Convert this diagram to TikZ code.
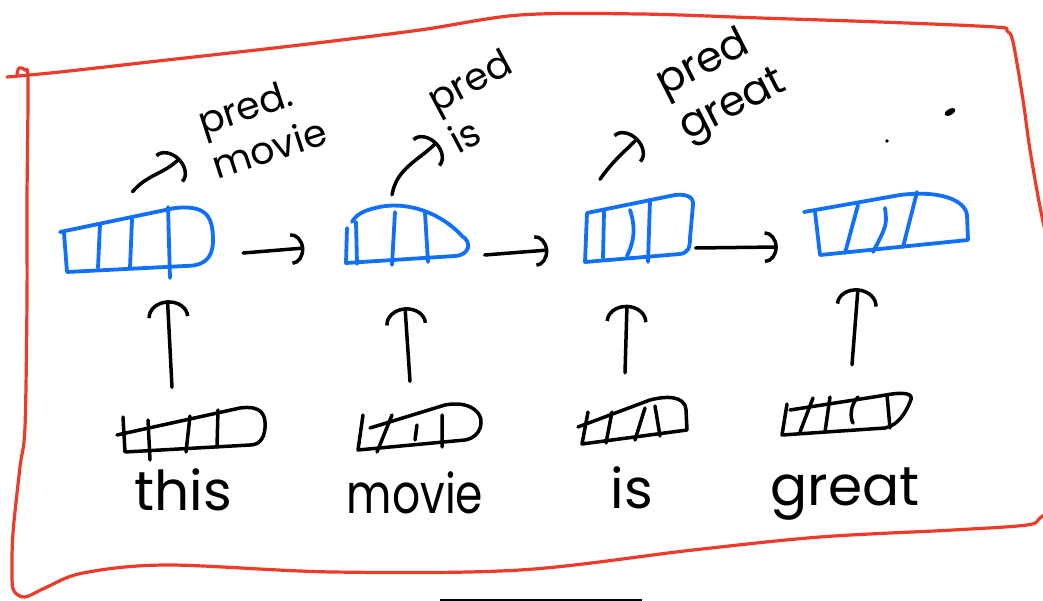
\documentclass[tikz,border=0pt]{standalone}
\usepackage{fontspec}
\setmainfont{Poppins}
\usetikzlibrary{arrows.meta}
\definecolor{inkblue}{RGB}{16,112,250}
\definecolor{inkred}{RGB}{238,58,40}
\tikzset{
  x=1pt, y=-1pt,
  frame/.style={draw=inkred, line width=3.2pt, line cap=round, line join=round},
  hid/.style={draw=inkblue, line width=3.8pt, line join=round, line cap=round},
  emb/.style={draw=black, line width=3.5pt, line join=round, line cap=round},
  box/.style={inner sep=0pt, draw=none, rectangle},
  flow/.style={draw=black, line width=3.5pt, line cap=round, -{Arc Barb[length=13pt,width=32pt]}},
  upflow/.style={draw=black, line width=3.5pt, line cap=round, -{Arc Barb[length=17pt,width=42pt]}},
  outflow/.style={draw=black, line width=3.5pt, line cap=round, -{Arc Barb[length=15pt,width=40pt]}},
  word/.style={font=\fontsize{55}{60}\selectfont, inner sep=0pt},
  lab/.style={font=\fontsize{38}{47}\selectfont, align=left, inner sep=0pt},
}
\begin{document}
\begin{tikzpicture}
\useasboundingbox (0,0) rectangle (1043,601);
\clip (0,0) rectangle (1043,601);

% red frame around the whole model: top and right side, then bottom and left side
\draw[frame] plot[smooth, tension=0.55] coordinates {
  (7,77) (60,72) (167,60) (300,45) (420,30) (520,15) (640,14) (760,18)
  (880,22) (995,27) (1007,31) (1013,42) (1023,100) (1030,150) (1041,212)
  (1052,260)};
\draw[frame] plot[smooth, tension=0.55] coordinates {
  (1056,505) (1040,518) (1027,525) (953,530)
  (820,537) (693,550) (520,570) (333,572) (167,565) (83,573) (45,588)
  (25,597) (14,591) (12,575) (13,533) (20,467) (25,427) (27,300)
  (27,200) (28,82) (25,70) (19,68) (17,75)};
\draw[line width=4pt] (440,601) -- (642,601);

% hidden states
\node[box, minimum width=157pt, minimum height=66pt] (h1) at (136.5,240) {};
\draw[hid] (60,232) -- (175,208) .. controls (205,205) and (213,215) .. (213,240)
  .. controls (213,262) and (200,266) .. (185,266) -- (67,272) -- (64,233);
\draw[hid] (100,224) -- (98,268) (132,219) -- (130,268) (168,207) -- (170,278);

\node[box, minimum width=125pt, minimum height=60pt] (h2) at (407,235) {};
\draw[hid] (347,228) -- (346,263) -- (455,256) .. controls (470,255) and (472,242) .. (462,236)
  .. controls (440,212) and (405,200) .. (375,208) .. controls (362,211) and (355,216) .. (352,222);
\draw[hid] (356,222) -- (357,264) (395,212) -- (392,265) (425,213) -- (428,262);

\node[box, minimum width=109pt, minimum height=69pt] (h3) at (640,228) {};
\draw[hid] (587,213) -- (585,262) -- (680,254) .. controls (688,253) and (690,248) .. (690,238)
  -- (693,205) .. controls (694,196) and (685,194) .. (675,195) -- cycle;
\draw[hid] (604,211) -- (603,258) (630,210) .. controls (636,228) and (634,242) .. (627,256)
  (650,200) -- (648,262);

\node[box, minimum width=164pt, minimum height=64pt] (h4) at (886,224) {};
\draw[hid] (804,212) -- (900,195) .. controls (940,190) and (965,200) .. (967,215)
  -- (968,240) -- (820,255) -- (815,212);
\draw[hid] (858,205) -- (845,253) (885,208) .. controls (887,225) .. (873,252)
  (917,192) -- (903,247);

% input embeddings
\node[box, minimum width=149pt, minimum height=47pt] (x1) at (191,428) {};
\draw[emb] (117,435) -- (240,408) .. controls (262,405) and (266,415) .. (265,428)
  .. controls (264,440) and (258,445) .. (250,445) -- (125,452) -- (123,417);
\draw[emb] (148,420) -- (150,460) (190,416) -- (186,452) (218,410) -- (217,447);

\node[box, minimum width=126pt, minimum height=49pt] (x2) at (421,427) {};
\draw[emb] (363,415) -- (358,450) -- (465,440) .. controls (482,437) and (484,420) .. (478,413)
  .. controls (470,403) and (455,403) .. (445,405) -- (370,428);
\draw[emb] (392,415) -- (377,452) (417,425) -- (415,440) (442,415) -- (442,447);

\node[box, minimum width=110pt, minimum height=50pt] (x3) at (633,420) {};
\draw[emb] (578,427) -- (650,400) .. controls (665,396) and (685,395) .. (686,410)
  -- (687,430) -- (582,444) -- (588,412);
\draw[emb] (612,412) -- (606,443) (645,408) -- (635,440) (655,406) -- (660,436);

\node[box, minimum width=130pt, minimum height=44pt] (x4) at (847,414) {};
\draw[emb] (790,410) -- (880,396) .. controls (905,391) and (915,393) .. (910,402)
  .. controls (905,414) and (898,425) .. (885,428) -- (782,435) -- (787,404);
\draw[emb] (813,398) -- (800,432) (830,397) -- (825,432)
  (858,397) .. controls (850,405) and (850,418) .. (853,423) (887,395) -- (890,428);

% input words
\node[word, anchor=base] (w1) at (183,510) {this};
\node[word, anchor=base, xscale=0.8] (w2) at (415,513) {movie};
\node[word, anchor=base] (w3) at (632,508) {is};
\node[word, anchor=base] (w4) at (845,505) {great};

% predictions
\node[lab, rotate=18] (p1) at (262,126) {pred.\\movie};
\node[lab, rotate=28] (p2) at (480,101) {pred\\is};
\node[lab, rotate=27, font=\fontsize{42}{50}\selectfont] (p3) at (722,84) {pred\\great};

% inputs feed the hidden states
\draw[upflow] ([shift={(-19,-17)}]x1.north) -- ([shift={(31,27)}]h1.south);
\draw[upflow] ([shift={(-11,-21)}]x2.north) -- ([shift={(-2,42)}]h2.south);
\draw[upflow] ([shift={(-8,-22)}]x3.north) -- ([shift={(-13,42)}]h3.south);
\draw[upflow] ([shift={(5,-27)}]x4.north) -- ([shift={(-28,32)}]h4.south);

% recurrence
\draw[flow] ([shift={(28,13)}]h1.east) -- ([shift={(-40,13)}]h2.west);
\draw[flow] ([shift={(15,20)}]h2.east) -- ([shift={(-37,22)}]h3.west);
\draw[flow] ([shift={(1,20)}]h3.east) -- ([shift={(-26,23)}]h4.west);

% outputs
\draw[outflow] ([shift={(-4,-15)}]h1.north) to[out=50,in=225] ([shift={(-82,32)}]p1.center);
\draw[outflow] ([shift={(-15,-10)}]h2.north) to[out=80,in=225] ([shift={(-43,41)}]p2.center);
\draw[outflow] ([shift={(-40,-14)}]h3.north) to[out=55,in=225] ([shift={(-84,54)}]p3.center);

% stray pen marks
\fill (887,141) circle (1.8pt);
\fill[rotate around={30:(950,112)}] (950,112) ellipse (6pt and 3pt);
\end{tikzpicture}
\end{document}
